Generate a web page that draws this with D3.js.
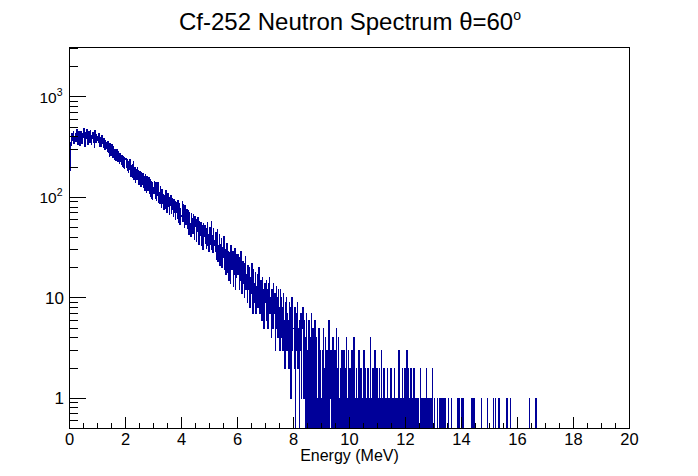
<!DOCTYPE html>
<html><head><meta charset="utf-8">
<script src="https://cdn.jsdelivr.net/npm/d3@7"></script>
<style>
body{margin:0;background:#fff}
svg{display:block}
text{font-family:"Liberation Sans",Arial,Helvetica,sans-serif;fill:#000}
</style>
</head><body>
<svg id="chart" width="698" height="476"></svg>
<script>
// ---------------- data ----------------
const chartTitle = "Cf-252 Neutron Spectrum \u03b8=60";
const chartTitleSup = "o";
const xAxisTitle = "Energy (MeV)";
const xRange = [0, 20];          // histogram axis range (MeV)
const yRange = [0.5, 3100];      // log axis range (counts)
const xTickLabels = [0, 2, 4, 6, 8, 10, 12, 14, 16, 18, 20];
const yTickLabels = [1, 10, 100, 1000];
// 1000 bins of 0.02 MeV
const counts = [
186,298,352,331,436,372,418,455,347,401,428,356,392,471,389,338,447,381,326,414,452,379,343,433,398,482,361,318,441,387,405,476,368,332,449,393,354,462,417,336,384,437,349,409,315,458,391,352,426,371,
402,351,428,362,318,397,366,322,409,341,312,381,346,296,372,308,351,285,362,278,297,256,341,305,262,332,289,247,318,283,240,302,276,231,297,258,226,289,244,217,271,229,211,262,205,253,198,247,192,238,
241,198,236,183,225,176,219,189,238,162,208,171,213,158,227,152,196,141,188,179,149,196,155,184,134,182,152,128,177,147,133,174,126,163,118,170,139,112,161,128,117,158,109,152,103,143,98,139,95,124,
108,143,121,97,139,94,126,104,141,88,112,86,129,101,79,120,87,106,76,103,104,78,116,91,70,109,81,99,68,93,83,105,69,97,76,64,95,71,91,60,88,70,61,94,74,56,86,54,77,66,
64,91,57,85,72,50,83,63,54,76,49,74,58,43,71,55,41,69,50,62,44,68,53,38,65,51,36,60,46,63,47,34,58,42,56,33,52,40,30,55,41,53,35,49,31,45,56,33,43,29,
50,34,44,57,30,42,28,49,37,33,29,45,24,37,48,23,33,43,21,34,27,39,20,32,25,41,19,30,27,17,24,35,18,29,15,28,22,14,33,21,19,29,13,24,17,31,12,23,16,27,
17,27,20,12,25,15,29,18,11,23,14,22,10,18,26,12,17,9,21,15,12,20,8,16,11,22,14,7,19,10,14,9,18,7,13,17,8,11,20,10,7,15,10,6,16,9,12,5,11,14,
9,15,6,12,5,14,8,16,7,10,4,12,9,5,14,7,11,3,9,13,5,10,4,12,8,3,12,6,10,4,8,3,11,6,2,9,5,10,3,7,6,2,9,4,8,1,6,10,3,5,
5,2,8,0,7,3,6,9,2,5,0,6,3,7,1,5,8,3,1,6,4,1,0,7,0,3,0,6,0,4,2,0,7,0,5,0,3,0,6,0,4,0,1,0,2,5,0,3,0,1,
0,3,0,5,0,2,0,4,0,3,0,2,0,6,0,1,3,0,2,0,4,0,2,0,3,0,5,0,2,0,4,0,1,0,2,0,3,0,2,0,3,0,2,0,4,0,1,0,3,0,
2,0,1,0,3,0,2,0,4,0,1,0,2,0,1,0,3,0,1,2,0,2,0,1,0,3,0,2,0,1,0,1,0,2,0,1,0,4,0,1,0,2,0,1,0,3,0,1,0,2,
0,1,0,2,0,1,0,3,0,1,0,2,0,1,0,1,0,2,0,1,1,0,1,0,2,0,1,0,1,0,2,0,1,0,1,0,1,0,3,0,1,0,1,0,2,0,1,0,1,2,
0,1,3,0,1,2,0,1,0,2,0,1,0,1,0,2,0,1,0,1,0,1,0,1,0,0,2,0,1,0,1,0,1,0,1,0,1,2,0,1,0,1,0,1,0,0,1,0,2,0,
0,1,0,0,0,0,0,1,0,0,1,0,0,1,0,0,1,0,0,0,1,0,0,0,0,0,1,0,0,0,0,0,1,0,0,0,0,0,0,0,0,0,1,0,0,1,0,0,0,0,
1,0,0,1,0,0,0,0,0,0,0,0,0,0,0,0,0,0,1,0,0,0,1,1,0,0,0,0,0,0,0,0,0,0,0,1,0,0,0,0,0,0,0,0,0,0,1,0,0,0,
0,0,0,0,0,0,0,1,0,0,1,0,0,0,0,0,1,0,0,0,0,0,0,0,0,0,0,0,0,0,1,0,1,0,0,0,0,1,0,0,0,0,0,0,0,0,0,0,0,0,
0,0,0,0,0,0,0,0,0,0,0,0,0,0,0,0,0,0,0,0,0,1,0,0,0,0,0,0,0,0,0,0,1,1,0,0,0,0,0,0,0,0,0,0,0,0,0,0,0,0,
0,0,0,0,0,0,0,0,0,0,0,0,0,0,0,0,0,0,0,0,0,0,0,0,0,0,0,0,0,0,0,0,0,0,0,0,0,0,0,0,0,0,0,0,0,0,0,0,0,0,
0,0,0,0,0,0,0,0,0,0,0,0,0,0,0,0,0,0,0,0,0,0,0,0,0,0,0,0,0,0,0,0,0,0,0,0,0,0,0,0,0,0,0,0,0,0,0,0,0,0,
0,0,0,0,0,0,0,0,0,0,0,0,0,0,0,0,0,0,0,0,0,0,0,0,0,0,0,0,0,0,0,0,0,0,0,0,0,0,0,0,0,0,0,0,0,0,0,0,0,0
];

// ---------------- layout ----------------
const W = 698, H = 476;
const frame = {left: 69.5, right: 629.5, top: 47.5, bottom: 428.5};
const svg = d3.select("#chart");

const x = d3.scaleLinear().domain(xRange).range([frame.left, frame.right]);
const y = d3.scaleLog().domain(yRange).range([frame.bottom, frame.top]);
const binW = (xRange[1] - xRange[0]) / counts.length;

svg.append("rect").attr("width", W).attr("height", H).attr("fill", "#fff");

svg.append("clipPath").attr("id", "fclip").append("rect")
  .attr("x", frame.left).attr("y", frame.top)
  .attr("width", frame.right - frame.left).attr("height", frame.bottom - frame.top);

// histogram outline
const yc = c => c > 0 ? y(c) : frame.bottom + 4;
const p = d3.path();
counts.forEach((c, i) => {
  const x0 = x(xRange[0] + i * binW), x1 = x(xRange[0] + (i + 1) * binW);
  if (i === 0) p.moveTo(x0, yc(c)); else p.lineTo(x0, yc(c));
  p.lineTo(x1, yc(c));
});
svg.append("path").attr("d", p.toString())
  .attr("clip-path", "url(#fclip)")
  .attr("fill", "none").attr("stroke", "#000099").attr("stroke-width", 1)
  .attr("shape-rendering", "crispEdges");

// frame
svg.append("rect")
  .attr("x", frame.left).attr("y", frame.top)
  .attr("width", frame.right - frame.left).attr("height", frame.bottom - frame.top)
  .attr("fill", "none").attr("stroke", "#000").attr("stroke-width", 1)
  .attr("shape-rendering", "crispEdges");

const g = svg.append("g").attr("stroke", "#000").attr("stroke-width", 1).attr("shape-rendering", "crispEdges");

// x ticks
const xMajorLen = 11.5, xMinorLen = 5.7;
d3.range(0, 41).forEach(k => {
  const v = xRange[0] + k * 0.5;
  const len = (k % 4 === 0) ? xMajorLen : xMinorLen;
  const px = Math.round(x(v) - 0.5) + 0.5;
  g.append("line").attr("x1", px).attr("x2", px)
    .attr("y1", frame.bottom).attr("y2", frame.bottom - len);
});

// y ticks (log)
const yMajorLen = 16.8, yMinorLen = 8.4;
const yTickVals = [];
for (let e = -1; e <= 3; e++) for (let m = 1; m <= 9; m++) yTickVals.push(m * Math.pow(10, e));
yTickVals.filter(v => v >= yRange[0] && v <= yRange[1]).forEach(v => {
  const isMajor = yTickLabels.includes(v);
  const py = Math.round(y(v) - 0.5) + 0.5;
  g.append("line").attr("x1", frame.left).attr("x2", frame.left + (isMajor ? yMajorLen : yMinorLen))
    .attr("y1", py).attr("y2", py);
});

// x labels
xTickLabels.forEach(v => {
  svg.append("text").attr("x", x(v)).attr("y", frame.bottom + 16.5)
    .attr("text-anchor", "middle").attr("font-size", 16.5).text(v);
});

// y labels
yTickLabels.forEach(v => {
  const t = svg.append("text").attr("text-anchor", "end").attr("font-size", 17);
  const e = Math.round(Math.log10(v));
  if (e <= 1) {
    t.attr("x", 64).attr("y", y(v) + 6).text(v);
  } else {
    t.attr("x", 62.5).attr("y", y(v) + 6);
    t.append("tspan").attr("font-size", 15.5).text("10");
    t.append("tspan").attr("font-size", 10.5).attr("dy", -7).text(e);
  }
});

// axis title
svg.append("text").attr("x", (frame.left + frame.right) / 2).attr("y", 461)
  .attr("text-anchor", "middle").attr("font-size", 16).text(xAxisTitle);

// chart title
const tt = svg.append("text").attr("x", 350).attr("y", 30)
  .attr("text-anchor", "middle").attr("font-size", 24);
tt.append("tspan").text(chartTitle);
tt.append("tspan").attr("font-size", 14).attr("dy", -10).text(chartTitleSup);
</script>
</body></html>
